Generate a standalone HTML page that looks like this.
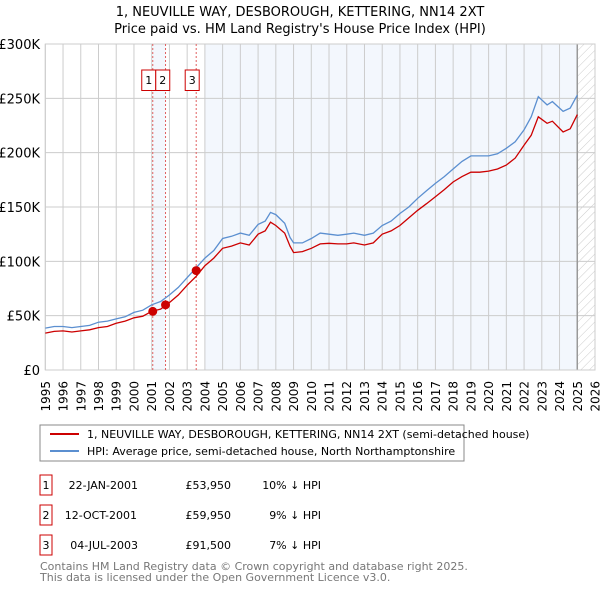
<!DOCTYPE html>
<html><head><meta charset="utf-8"><style>
body{margin:0;background:#fff;font-family:"DejaVu Sans","Liberation Sans",sans-serif;}
svg text{font-family:"DejaVu Sans","Liberation Sans",sans-serif;}
</style></head><body>
<svg id="c" width="600" height="590" xmlns="http://www.w3.org/2000/svg">
<defs><pattern id="hatch" width="6" height="6" patternUnits="userSpaceOnUse" patternTransform="rotate(45)"><line x1="0" y1="0" x2="0" y2="6" stroke="#ccc" stroke-width="1"/></pattern></defs>
<text x="300" y="16" text-anchor="middle" font-size="13">1, NEUVILLE WAY, DESBOROUGH, KETTERING, NN14 2XT</text>
<text x="300" y="33" text-anchor="middle" font-size="13">Price paid vs. HM Land Registry's House Price Index (HPI)</text>
<g id="plot"></g>
<rect x="40" y="425" width="424" height="36" fill="#fff" stroke="#888"/>
<line x1="50" y1="434" x2="79" y2="434" stroke="#cc0000" stroke-width="2"/>
<text x="87" y="438" font-size="11">1, NEUVILLE WAY, DESBOROUGH, KETTERING, NN14 2XT (semi-detached house)</text>
<line x1="50" y1="451" x2="79" y2="451" stroke="#5b8fd0" stroke-width="2"/>
<text x="87" y="455" font-size="11">HPI: Average price, semi-detached house, North Northamptonshire</text>
<g font-size="11">
<rect x="40" y="475" width="12" height="20" fill="#fff" stroke="#cc0000"/><text x="46" y="489" text-anchor="middle">1</text>
<text x="138" y="489" text-anchor="end">22-JAN-2001</text>
<text x="231" y="489" text-anchor="end">£53,950</text>
<text x="321" y="489" text-anchor="end">10% ↓ HPI</text>
<rect x="40" y="505" width="12" height="20" fill="#fff" stroke="#cc0000"/><text x="46" y="519" text-anchor="middle">2</text>
<text x="137" y="519" text-anchor="end">12-OCT-2001</text>
<text x="231" y="519" text-anchor="end">£59,950</text>
<text x="321" y="519" text-anchor="end">9% ↓ HPI</text>
<rect x="40" y="535" width="12" height="20" fill="#fff" stroke="#cc0000"/><text x="46" y="549" text-anchor="middle">3</text>
<text x="138" y="549" text-anchor="end">04-JUL-2003</text>
<text x="231" y="549" text-anchor="end">£91,500</text>
<text x="321" y="549" text-anchor="end">7% ↓ HPI</text>
</g>
<text x="40" y="570" font-size="11" fill="#777">Contains HM Land Registry data © Crown copyright and database right 2025.</text>
<text x="40" y="581" font-size="11" fill="#777">This data is licensed under the Open Government Licence v3.0.</text>
</svg>
<script>
const hpiYears=[1995,1995.5,1996,1996.5,1997,1997.5,1998,1998.5,1999,1999.5,2000,2000.5,2001,2001.5,2002,2002.5,2003,2003.5,2004,2004.5,2005,2005.5,2006,2006.5,2007,2007.4,2007.7,2008,2008.5,2008.8,2009,2009.5,2010,2010.5,2011,2011.5,2012,2012.4,2013,2013.5,2014,2014.5,2015,2015.5,2016,2016.5,2017,2017.5,2018,2018.5,2019,2019.5,2020,2020.5,2021,2021.5,2022,2022.4,2022.8,2023.3,2023.6,2024.2,2024.6,2025];
const hpiValues=[38.6,40,40,39,40,41,44,45,47,49,53,55,60,63,69,76,85,94,103,110,121,123,126,124,134,137,145,143,135,122,117,117,121,126,125,124,125,126,124,126,133,137,144,150,158,165,171.7,178,185,192,197,197,197,199,204,210,221,233,251.5,244,247,238,241,253];
const propYears=hpiYears;
const propValues=[34,35.5,36,35,36,37,39,40,43,45,48,49.5,54,56,62,69,78,86,96,103,112,114,117,115,125,128,136,133,126,114,108,109,112,116,116.6,116,116,117,115,117,125,128,133,140,147,153,159.5,166,173,178,182,182,183,185,188.6,195,207,216,233,227,229,219,222,235];
const saleYears=[2001.06,2001.78,2003.51];
const saleValues=[53.95,59.95,91.5];
const saleLabels=["1","2","3"];
const yTicks=[0,50,100,150,200,250,300];
const yTickLabels=["£0","£50K","£100K","£150K","£200K","£250K","£300K"];
const xTicks=[1995,1996,1997,1998,1999,2000,2001,2002,2003,2004,2005,2006,2007,2008,2009,2010,2011,2012,2013,2014,2015,2016,2017,2018,2019,2020,2021,2022,2023,2024,2025,2026];

const X0=45.3,X1=595,Y0=370,Y1=44;
const xs=y=>X0+(y-1995)/31*(X1-X0);
const ys=v=>Y0-v/300*(Y0-Y1);
const NS="http://www.w3.org/2000/svg";
const g=document.getElementById('plot');
function mk(t,a){const e=document.createElementNS(NS,t);for(const k in a)e.setAttribute(k,a[k]);g.appendChild(e);return e;}
let e;
e=mk('rect',{x:X0,y:Y1,width:X1-X0,height:Y0-Y1,fill:'#fff'});


e=mk('rect',{x:xs(saleYears[0]),y:Y1,width:xs(saleYears[1])-xs(saleYears[0]),height:Y0-Y1,fill:'#eef3fc',opacity:0.7});


e=mk('rect',{x:xs(2004),y:Y1,width:xs(2025)-xs(2004),height:Y0-Y1,fill:'#eef3fc',opacity:0.7});


e=mk('rect',{x:xs(2025),y:Y1,width:X1-xs(2025),height:Y0-Y1,fill:'url(#hatch)'});


xTicks.forEach(t=>{e=mk('line',{x1:xs(t),x2:xs(t),y1:Y1,y2:Y0,stroke:'#ccc','stroke-width':1});


e=mk('text',{x:0,y:0,'font-size':12,'text-anchor':'end',transform:`translate(${xs(t)+4.5},381) rotate(-90)`});e.textContent=t;

});
yTicks.forEach((t,i)=>{e=mk('line',{x1:X0,x2:X1,y1:ys(t),y2:ys(t),stroke:'#ccc','stroke-width':1});


e=mk('text',{x:40,y:ys(t)+5,'font-size':13,'text-anchor':'end'});e.textContent=yTickLabels[i];

});
e=mk('line',{x1:xs(2025),x2:xs(2025),y1:Y1,y2:Y0,stroke:'#999','stroke-width':1.5});


e=mk('rect',{x:X0,y:Y1,width:X1-X0,height:Y0-Y1,fill:'none',stroke:'#ccc'});


saleYears.forEach((s,i)=>{e=mk('line',{x1:xs(s),x2:xs(s),y1:Y1,y2:Y0,stroke:'#e06060','stroke-width':1,'stroke-dasharray':'2,2'});

});
const pts=(a,b)=>a.map((y,i)=>xs(y).toFixed(1)+','+ys(b[i]).toFixed(1)).join(' ');
e=mk('polyline',{points:pts(hpiYears,hpiValues),fill:'none',stroke:'#5b8fd0','stroke-width':1.3});


e=mk('polyline',{points:pts(propYears,propValues),fill:'none',stroke:'#cc0000','stroke-width':1.3});


saleYears.forEach((s,i)=>{e=mk('circle',{cx:xs(s),cy:ys(saleValues[i]),r:4.5,fill:'#cc0000'});


const bx=i==1?xs(saleYears[0])+3:xs(s)-11;
e=mk('rect',{x:bx,y:70,width:14,height:20.5,fill:'#fff',stroke:'#cc0000'});


e=mk('text',{x:bx+7,y:84,'font-size':11,'text-anchor':'middle'});e.textContent=saleLabels[i];

});
</script>
</body></html>
